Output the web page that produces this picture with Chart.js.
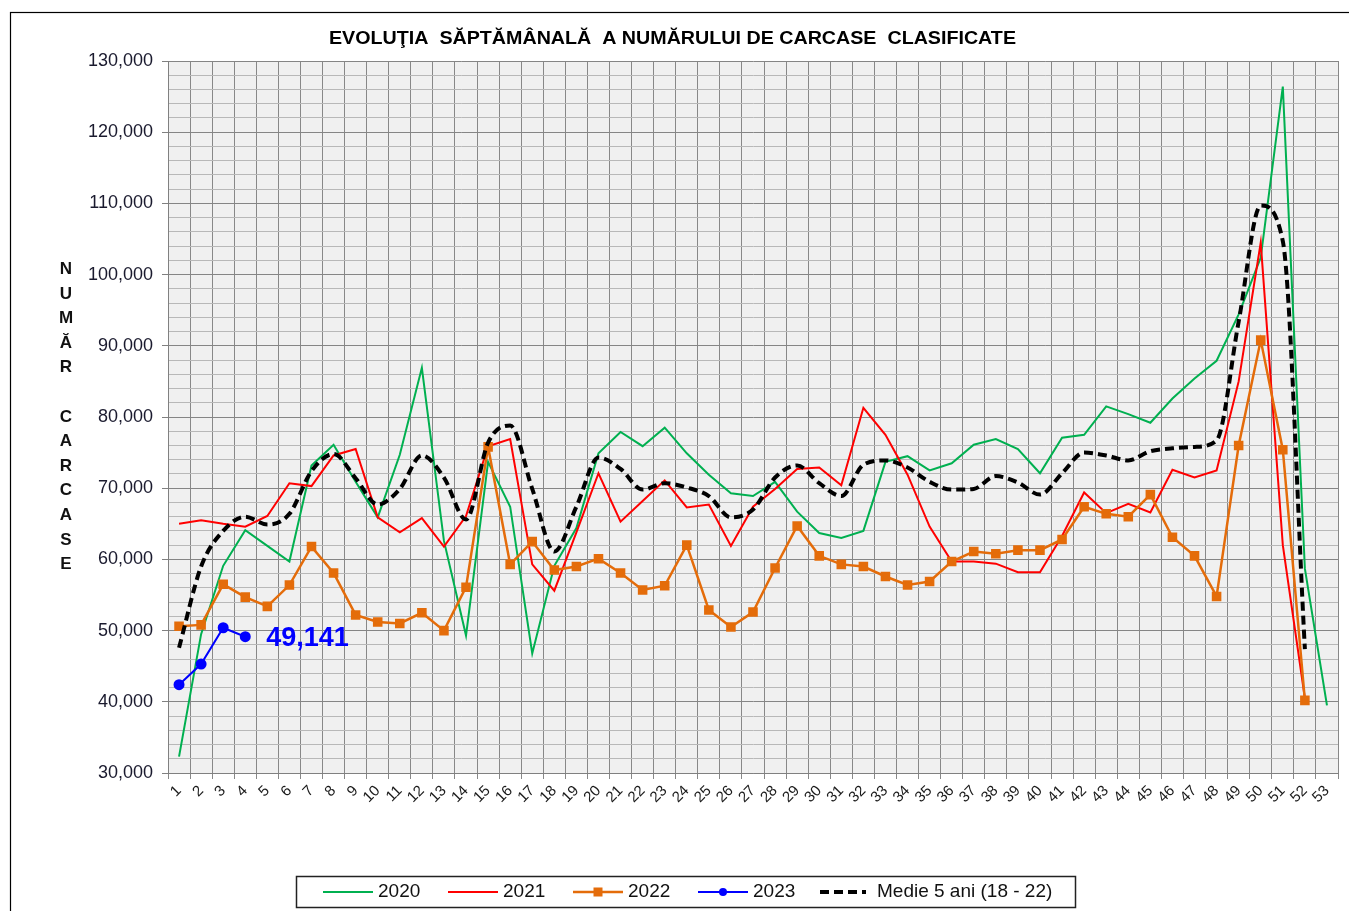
<!DOCTYPE html>
<html>
<head>
<meta charset="utf-8">
<style>
    body { margin: 0; padding: 0; background: #fff; }
    #wrap { position: absolute; left: 0; top: 0; width: 1349px; height: 911px; }
</style>
<script src="https://cdn.jsdelivr.net/npm/chart.js@4.4.1/dist/chart.umd.min.js"></script>
</head>
<body>
<div id="wrap">
    <canvas id="myChart" width="1349" height="911"></canvas>
</div>
<script>
    // Date
    const weeks = ['1','2','3','4','5','6','7','8','9','10','11','12','13','14','15','16','17','18','19','20',
        '21','22','23','24','25','26','27','28','29','30','31','32','33','34','35','36','37','38','39','40',
        '41','42','43','44','45','46','47','48','49','50','51','52','53'];

    const s2020 = [32300, 49500, 59100, 64100, 61900, 59700, 73200, 76100, 70900, 65900,
        74700, 86900, 62600, 49300, 73700, 67400, 46800, 59100, 64400, 74900,
        77900, 75900, 78500, 74900, 71900, 69300, 68900, 70900, 66700, 63700,
        63000, 64000, 73700, 74500, 72500, 73500, 76100, 76900, 75500, 72100,
        77100, 77500, 81500, 80400, 79200, 82600, 85400, 87900, 94400, 102400,
        126400, 58700, 39500];

    const s2021 = [65000, 65500, 65000, 64600, 66100, 70700, 70300, 74600, 75500, 65900,
        63800, 65800, 61800, 66100, 75900, 76900, 59300, 55600, 63800, 72100,
        65300, 68200, 71100, 67300, 67700, 61900, 67400, 69900, 72700, 72900,
        70400, 81300, 77500, 71900, 64600, 59700, 59700, 59400, 58200, 58200,
        63300, 69400, 66500, 67800, 66600, 72600, 71500, 72500, 85000, 104500,
        62000, 40500, null];

    const s2022 = [50600, 50800, 56500, 54700, 53400, 56400, 61800, 58100, 52200, 51200,
        51000, 52500, 50000, 56100, 75800, 59300, 62500, 58500, 59000, 60100,
        58100, 55700, 56300, 62000, 52900, 50500, 52600, 58800, 64700, 60500,
        59300, 59000, 57600, 56400, 56900, 59700, 61100, 60800, 61300, 61300,
        62800, 67400, 66400, 66000, 69100, 63100, 60500, 54800, 76000, 90800,
        75400, 40200, null];

    const s2023 = [42400, 45300, 50400, 49141];

    const medie = [47600, 59000, 64000, 66000, 64900, 66400, 72400, 74800, 71400, 67700,
        69900, 74600, 71500, 65600, 76400, 78800, 69900, 61100, 67400, 74300,
        72700, 69800, 70700, 70100, 68900, 65900, 67000, 71500, 73200, 70700,
        68900, 73300, 73900, 72900, 70900, 69800, 69900, 71700, 70800, 69100,
        72100, 75000, 74600, 73900, 75200, 75600, 75800, 76700, 93400, 109700,
        104700, 47400, null];

    const seriesNames = ['2020', '2021', '2022', '2023', 'Medie 5 ani (18 - 22)'];

    const FONT = '"Liberation Sans", Arial, sans-serif';
    Chart.defaults.font.family = FONT;
    Chart.defaults.color = '#1a1a1a';

    // fundal, cadru, titlu, litere pe axa y, legenda
    const decor = {
        id: 'decor',
        beforeDraw(chart) {
            const c = chart.ctx;
            const a = chart.chartArea;
            c.save();
            c.fillStyle = '#ffffff';
            c.fillRect(0, 0, chart.width, chart.height);
            c.fillStyle = '#f0f0f0';
            c.fillRect(a.left, a.top, a.right - a.left, a.bottom - a.top);
            c.restore();
        },
        afterDraw(chart) {
            const c = chart.ctx;
            const a = chart.chartArea;
            c.save();

            // cadru exterior
            c.strokeStyle = '#000';
            c.lineWidth = 1.2;
            c.strokeRect(10.5, 12.5, 1360, 920);

            // titlu
            const title = 'EVOLUŢIA  SĂPTĂMÂNALĂ  A NUMĂRULUI DE CARCASE  CLASIFICATE';
            c.font = 'bold 18px ' + FONT;
            c.fillStyle = '#000';
            c.textBaseline = 'middle';
            c.textAlign = 'left';
            const tw = c.measureText(title).width;
            const sx = 687 / tw;
            c.save();
            c.translate(329, 39);
            c.scale(sx, 1);
            c.fillText(title, 0, 0);
            c.restore();

            // titlu axa y, litera cu litera
            const letters = ['N','U','M','Ă','R','','C','A','R','C','A','S','E'];
            c.font = 'bold 17px ' + FONT;
            c.textAlign = 'center';
            c.fillStyle = '#111';
            const mid = (a.top + a.bottom) / 2;
            const step = 24.6;
            letters.forEach((ch, i) => {
                c.fillText(ch, 66, mid + (i - 6) * step);
            });

            // eticheta ultimei valori 2023
            const xs = chart.scales.x;
            const ys = chart.scales.y;
            const last = s2023.length - 1;
            c.font = 'bold 27px ' + FONT;
            c.fillStyle = '#0000ff';
            c.textAlign = 'left';
            c.fillText(s2023[last].toLocaleString('en-US'), xs.getPixelForValue(last) + 21, ys.getPixelForValue(s2023[last]) + 2);

            // legenda
            c.strokeStyle = '#222';
            c.lineWidth = 1.5;
            c.strokeRect(296.5, 876.5, 779, 31);
            const starts = [323, 448, 573, 698, 820];
            const ly = 892;
            c.font = '19px ' + FONT;
            c.textAlign = 'left';
            chart.data.datasets.forEach((ds, i) => {
                const x0 = starts[i];
                const x1 = x0 + 50;
                c.save();
                c.strokeStyle = ds.borderColor;
                c.lineWidth = ds.borderWidth;
                if (ds.borderDash) c.setLineDash(ds.borderDash);
                c.beginPath();
                c.moveTo(x0, ly);
                c.lineTo(i === 4 ? x0 + 46 : x1, ly);
                c.stroke();
                c.setLineDash([]);
                c.fillStyle = ds.borderColor;
                if (ds.pointStyle === 'rect') {
                    c.fillRect((x0 + x1) / 2 - 4.5, ly - 4.5, 9, 9);
                } else if (ds.pointStyle === 'circle' && ds.pointRadius > 0) {
                    c.beginPath();
                    c.arc((x0 + x1) / 2, ly, 4, 0, Math.PI * 2);
                    c.fill();
                }
                c.restore();
                c.fillStyle = '#111';
                c.fillText(ds.label, i === 4 ? x0 + 57 : x1 + 5, ly);
            });

            c.restore();
        }
    };

    const data = {
        labels: weeks,
        datasets: [
            {
                label: seriesNames[0],
                data: s2020,
                borderColor: '#00b050',
                backgroundColor: '#00b050',
                borderWidth: 2,
                pointRadius: 0,
                pointStyle: 'line',
                tension: 0,
                order: 5
            },
            {
                label: seriesNames[1],
                data: s2021,
                borderColor: '#ff0000',
                backgroundColor: '#ff0000',
                borderWidth: 2,
                pointRadius: 0,
                pointStyle: 'line',
                tension: 0,
                order: 4
            },
            {
                label: seriesNames[2],
                data: s2022,
                borderColor: '#e46c0a',
                backgroundColor: '#e46c0a',
                borderWidth: 2.5,
                pointStyle: 'rect',
                pointRadius: 5,
                tension: 0,
                order: 3
            },
            {
                label: seriesNames[3],
                data: s2023,
                borderColor: '#0000ff',
                backgroundColor: '#0000ff',
                borderWidth: 2,
                pointStyle: 'circle',
                pointRadius: 4.5,
                tension: 0,
                order: 2
            },
            {
                label: seriesNames[4],
                data: medie,
                borderColor: '#000000',
                backgroundColor: '#000000',
                borderWidth: 4,
                borderDash: [9, 5],
                pointRadius: 0,
                pointStyle: false,
                cubicInterpolationMode: 'monotone',
                order: 1
            }
        ]
    };

    const config = {
        type: 'line',
        data: data,
        plugins: [decor],
        options: {
            responsive: false,
            animation: false,
            layout: {
                padding: { left: 0, top: 61, right: 11, bottom: 0 }
            },
            plugins: {
                legend: { display: false },
                title: { display: false },
                tooltip: { enabled: false }
            },
            scales: {
                x: {
                    type: 'category',
                    offset: true,
                    afterFit: (scale) => { scale.height = 911 - 773; },
                    grid: {
                        offset: true,
                        color: '#888888',
                        lineWidth: 1,
                        tickLength: 6,
                        tickColor: '#888888'
                    },
                    border: { color: '#808080', width: 1 },
                    ticks: {
                        autoSkip: false,
                        minRotation: 45,
                        maxRotation: 45,
                        padding: 3,
                        color: '#1a1a1a',
                        font: { size: 15 }
                    }
                },
                y: {
                    min: 30000,
                    max: 130000,
                    afterFit: (scale) => { scale.width = 168; },
                    grid: {
                        color: (ctx) => (ctx.tick && ctx.tick.value % 10000 === 0) ? '#858585' : '#b8b8b8',
                        lineWidth: 1,
                        tickLength: 6,
                        tickColor: (ctx) => (ctx.tick && ctx.tick.value % 10000 === 0) ? '#808080' : 'rgba(0,0,0,0)'
                    },
                    border: { color: '#808080', width: 1 },
                    ticks: {
                        stepSize: 2000,
                        autoSkip: false,
                        padding: 9,
                        color: '#1a1a2e',
                        font: { size: 18 },
                        callback: (v) => v % 10000 === 0 ? v.toLocaleString('en-US') : ''
                    }
                }
            }
        }
    };

    const myChart = new Chart(document.getElementById('myChart').getContext('2d'), config);
</script>
</body>
</html>
